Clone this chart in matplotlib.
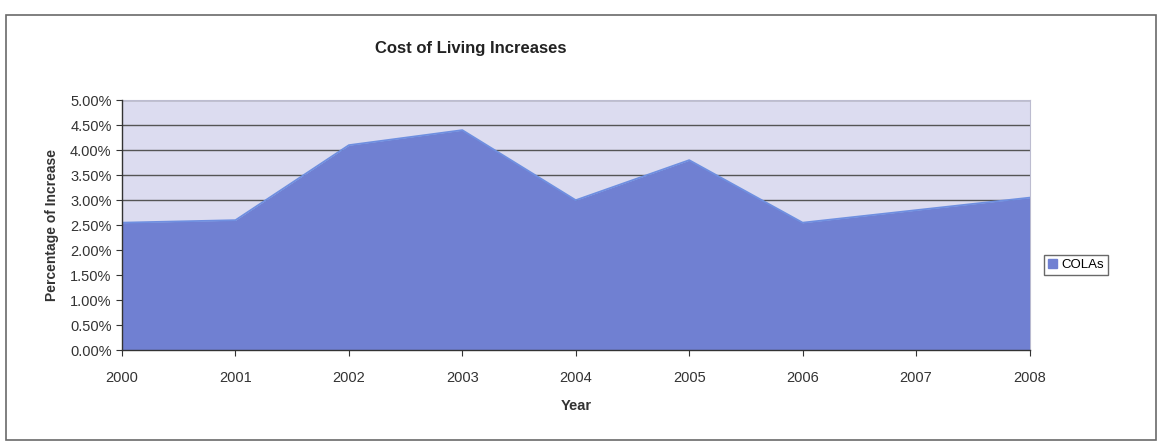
import matplotlib.pyplot as plt
from matplotlib.patches import Patch, Rectangle
from matplotlib.ticker import FuncFormatter, MultipleLocator

plt.rcParams["font.family"] = ["Liberation Sans", "DejaVu Sans"]

# values (percent)
years = [2000, 2001, 2002, 2003, 2004, 2005, 2006, 2007, 2008]
colas = [2.55, 2.6, 4.1, 4.4, 3.0, 3.8, 2.55, 2.8, 3.05]

FILL = "#7080d2"
EDGE = "#6f8fe0"
PLOT_BG = "#dcdcf0"


def main():
    fig = plt.figure(figsize=(11.62, 4.45), dpi=100)
    fig.patch.set_facecolor("white")

    # outer chart border
    fig.patches.append(Rectangle((0.005, 0.012), 0.99, 0.955, transform=fig.transFigure,
                                 fill=False, edgecolor="#6a6a6a", linewidth=1.2))

    ax = fig.add_axes([0.105, 0.213, 0.781, 0.562])
    ax.set_facecolor(PLOT_BG)
    ax.fill_between(years, colas, 0, color=FILL, linewidth=0, zorder=3)
    ax.plot(years, colas, color=EDGE, linewidth=1.3, zorder=4)

    ax.set_xlim(years[0], years[-1])
    ax.set_ylim(0, 5)
    ax.set_xticks(years)
    ax.set_xticklabels([str(y) for y in years])
    ax.yaxis.set_major_locator(MultipleLocator(0.5))
    ax.yaxis.set_major_formatter(FuncFormatter(lambda v, p: f"{v:.2f}%"))
    ax.grid(axis="y", color="#555555", linewidth=1.0, zorder=1)
    ax.set_axisbelow(True)

    ax.tick_params(axis="both", labelsize=10.5, colors="#333333", length=4, direction="out")
    ax.tick_params(axis="x", pad=11)
    for side in ("left", "bottom"):
        ax.spines[side].set_color("#333333")
        ax.spines[side].set_linewidth(1.0)
        ax.spines[side].set_zorder(5)
    for side in ("top", "right"):
        ax.spines[side].set_color("#bcbcd0")
        ax.spines[side].set_linewidth(0.8)

    ax.set_xlabel("Year", fontsize=10.5, fontweight="bold", color="#333333", labelpad=10)
    ax.set_ylabel("Percentage of Increase", fontsize=10, fontweight="bold",
                  color="#333333", labelpad=8)

    fig.text(0.405, 0.89, "Cost of Living Increases", ha="center", va="center",
             fontsize=12, fontweight="bold", color="#222222")

    handles = [Patch(facecolor=FILL, edgecolor=FILL, label="COLAs")]
    fig.legend(handles=handles, loc="center", bbox_to_anchor=(0.926, 0.405),
               fontsize=9.5, frameon=True, fancybox=False, edgecolor="#444444",
               handlelength=0.7, handleheight=0.7, handletextpad=0.3,
               borderpad=0.3, borderaxespad=0)

    fig.savefig("out.png", dpi=100)
    plt.close(fig)


if __name__ == "__main__":
    main()
